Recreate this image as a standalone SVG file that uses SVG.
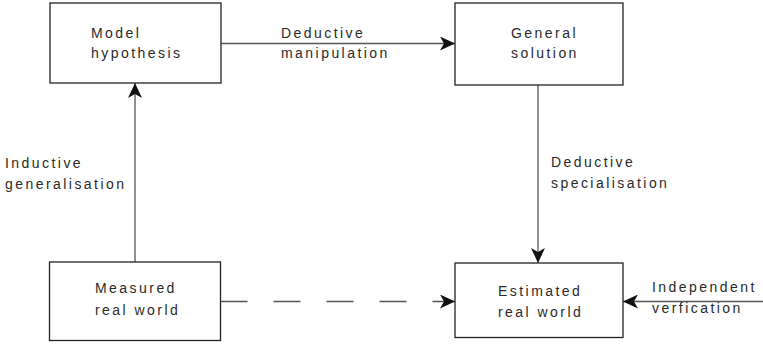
<svg xmlns="http://www.w3.org/2000/svg" width="763" height="344" viewBox="0 0 763 344">
  <style>
    .box { fill: #ffffff; stroke: #222222; stroke-width: 1.3; }
    .lbl { font-family: "Liberation Sans", Arial, sans-serif; font-size: 14px; letter-spacing: 2.45px; fill: #2a2a2a; }
    .edge { fill: none; stroke: #555555; stroke-width: 1.3; }
    .dash { stroke-dasharray: 27 26; }
  </style>
  <defs>
    <marker id="arrow" viewBox="0 0 15 14" refX="15" refY="7" markerWidth="15" markerHeight="14" markerUnits="userSpaceOnUse" orient="auto">
      <path d="M0,0 L15,7 L0,14 L4,7 Z" fill="#111111"/>
    </marker>
  </defs>

  <g id="connectors">
    <line class="edge" x1="221" y1="43.5" x2="455" y2="43.5" marker-end="url(#arrow)"/>
    <line class="edge" x1="538" y1="85" x2="538" y2="263" marker-end="url(#arrow)"/>
    <line class="edge" x1="135" y1="262" x2="135" y2="83" marker-end="url(#arrow)"/>
    <line class="edge dash" x1="220.5" y1="301.5" x2="455" y2="301.5" marker-end="url(#arrow)"/>
    <line class="edge" x1="763" y1="301.5" x2="623" y2="301.5" marker-end="url(#arrow)"/>
    <text class="lbl" x="281" y="38">Deductive</text>
    <text class="lbl" x="281" y="58">manipulation</text>
    <text class="lbl" x="551" y="167">Deductive</text>
    <text class="lbl" x="551" y="188">specialisation</text>
    <text class="lbl" x="5" y="168">Inductive</text>
    <text class="lbl" x="5" y="189">generalisation</text>
    <text class="lbl" x="652" y="292">Independent</text>
    <text class="lbl" x="652" y="313">verfication</text>
  </g>

  <g id="model-hypothesis">
    <rect class="box" x="50" y="3" width="171" height="80"/>
    <text class="lbl" x="91" y="38">Model</text>
    <text class="lbl" x="91" y="58">hypothesis</text>
  </g>

  <g id="general-solution">
    <rect class="box" x="455" y="3" width="168" height="82"/>
    <text class="lbl" x="511" y="38">General</text>
    <text class="lbl" x="511" y="58">solution</text>
  </g>

  <g id="measured-real-world">
    <rect class="box" x="49.5" y="262" width="171" height="78.5"/>
    <text class="lbl" x="95" y="293">Measured</text>
    <text class="lbl" x="95" y="315">real world</text>
  </g>

  <g id="estimated-real-world">
    <rect class="box" x="455" y="263" width="168" height="74.5"/>
    <text class="lbl" x="498" y="296">Estimated</text>
    <text class="lbl" x="498" y="317">real world</text>
  </g>
</svg>
